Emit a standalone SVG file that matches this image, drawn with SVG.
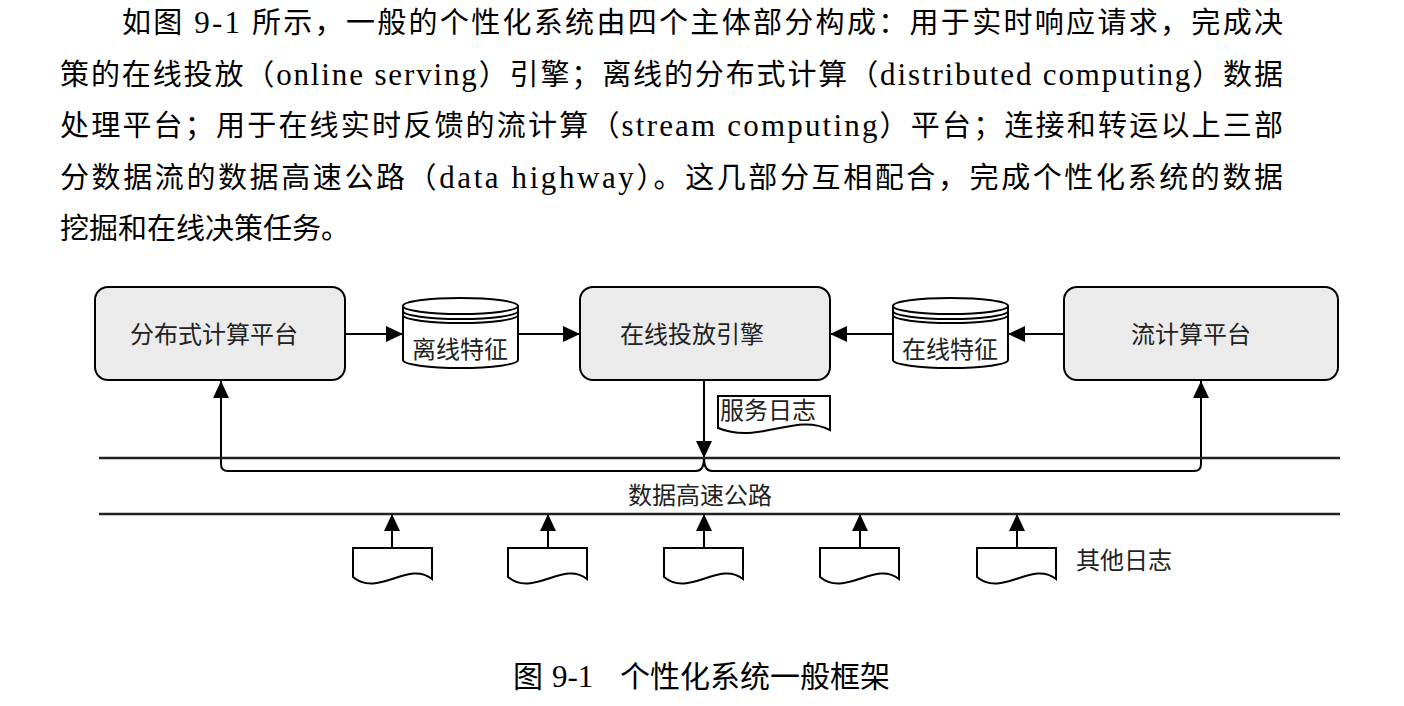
<svg xmlns="http://www.w3.org/2000/svg" width="1404" height="706" viewBox="0 0 1404 706">
<style>
.body{font-family:"Liberation Serif","Noto Sans CJK SC",serif;font-size:29px;fill:#000}
.lat{font-size:31px}
.lbl{font-family:"Noto Sans CJK SC","Liberation Sans",sans-serif;font-size:24px;fill:#222;text-anchor:middle}
.box{fill:#ebebeb;stroke:#000;stroke-width:2}
.shape{fill:#fff;stroke:#000;stroke-width:2}
.ln{fill:none;stroke:#000;stroke-width:2}
.hw{fill:none;stroke:#222;stroke-width:2.4}
</style>
<defs>
<marker id="ah" markerUnits="userSpaceOnUse" markerWidth="18" markerHeight="16" refX="17" refY="8" orient="auto">
<path d="M0 0 L17 8 L0 16 Z" fill="#000"/>
</marker>
<path id="doc" d="M0 0 H79 V31 C55 12 25 50 0 29 Z"/>
</defs>
<rect width="1404" height="706" fill="#fff"/>
<g id="bodytext">
<text class="body" x="122" y="33" textLength="1161" lengthAdjust="spacing">如图 <tspan class="lat">9-1</tspan> 所示，一般的个性化系统由四个主体部分构成：用于实时响应请求，完成决</text>
<text class="body" x="60" y="85" textLength="1223" lengthAdjust="spacing">策的在线投放（<tspan class="lat">online serving</tspan>）引擎；离线的分布式计算（<tspan class="lat">distributed computing</tspan>）数据</text>
<text class="body" x="60" y="136" textLength="1223" lengthAdjust="spacing">处理平台；用于在线实时反馈的流计算（<tspan class="lat">stream computing</tspan>）平台；连接和转运以上三部</text>
<text class="body" x="60" y="188" textLength="1223" lengthAdjust="spacing">分数据流的数据高速公路（<tspan class="lat">data highway</tspan>）。这几部分互相配合，完成个性化系统的数据</text>
<text class="body" x="60" y="239">挖掘和在线决策任务。</text>
</g>
<g id="connectors">
<line class="ln" x1="345" y1="334" x2="403" y2="334" marker-end="url(#ah)"/>
<line class="ln" x1="518" y1="334" x2="580" y2="334" marker-end="url(#ah)"/>
<line class="ln" x1="1064" y1="334" x2="1008" y2="334" marker-end="url(#ah)"/>
<line class="ln" x1="893" y1="334" x2="830" y2="334" marker-end="url(#ah)"/>
<line class="ln" x1="704" y1="380" x2="704" y2="458" marker-end="url(#ah)"/>
<path class="ln" d="M704 458 Q704 471 696 471 H228 Q221 471 221 464 V381" marker-end="url(#ah)"/>
<path class="ln" d="M704 458 Q704 471 712 471 H1194 Q1201 471 1201 464 V381" marker-end="url(#ah)"/>
<line class="ln" x1="392" y1="548" x2="392" y2="514" marker-end="url(#ah)"/>
<line class="ln" x1="548" y1="548" x2="548" y2="514" marker-end="url(#ah)"/>
<line class="ln" x1="704" y1="548" x2="704" y2="514" marker-end="url(#ah)"/>
<line class="ln" x1="860" y1="548" x2="860" y2="514" marker-end="url(#ah)"/>
<line class="ln" x1="1017" y1="548" x2="1017" y2="514" marker-end="url(#ah)"/>
</g>
<g id="highway">
<line class="hw" x1="99" y1="458" x2="1340" y2="458"/>
<line class="hw" x1="99" y1="514" x2="1340" y2="514"/>
<text class="lbl" x="700" y="504">数据高速公路</text>
</g>
<g id="distributed">
<rect class="box" x="95" y="287" width="250" height="93" rx="13"/>
<text class="lbl" x="214" y="343">分布式计算平台</text>
</g>
<g id="serving">
<rect class="box" x="580" y="287" width="250" height="93" rx="13"/>
<text class="lbl" x="692" y="343">在线投放引擎</text>
</g>
<g id="stream">
<rect class="box" x="1064" y="287" width="274" height="93" rx="13"/>
<text class="lbl" x="1191" y="343">流计算平台</text>
</g>
<g id="offline-features">
<path class="shape" d="M403 306 V360 A57.5 8 0 0 0 518 360 V306 Z"/>
<ellipse class="shape" cx="460.5" cy="306" rx="57.5" ry="8"/>
<path class="ln" d="M403 311 A57.5 8 0 0 0 518 311 M403 315 A57.5 8 0 0 0 518 315"/>
<text class="lbl" x="460" y="358">离线特征</text>
</g>
<g id="online-features">
<path class="shape" d="M893 306 V360 A57.5 8 0 0 0 1008 360 V306 Z"/>
<ellipse class="shape" cx="950.5" cy="306" rx="57.5" ry="8"/>
<path class="ln" d="M893 311 A57.5 8 0 0 0 1008 311 M893 315 A57.5 8 0 0 0 1008 315"/>
<text class="lbl" x="950" y="358">在线特征</text>
</g>
<g id="service-log">
<path class="shape" d="M718 396 H830 V430 C795 412 760 445 718 428 Z"/>
<text class="lbl" x="768" y="419" textLength="96" lengthAdjust="spacing">服务日志</text>
</g>
<g id="other-logs">
<use href="#doc" class="shape" x="353" y="548"/>
<use href="#doc" class="shape" x="508" y="548"/>
<use href="#doc" class="shape" x="664" y="548"/>
<use href="#doc" class="shape" x="820" y="548"/>
<use href="#doc" class="shape" x="977" y="548"/>
<text class="lbl" x="1124" y="569">其他日志</text>
</g>
<g id="caption">
<text class="body" x="513" y="687" style="font-size:30px"><tspan>图</tspan><tspan class="lat" x="552">9-1</tspan><tspan x="620">个性化系统一般框架</tspan></text>
</g>
</svg>
